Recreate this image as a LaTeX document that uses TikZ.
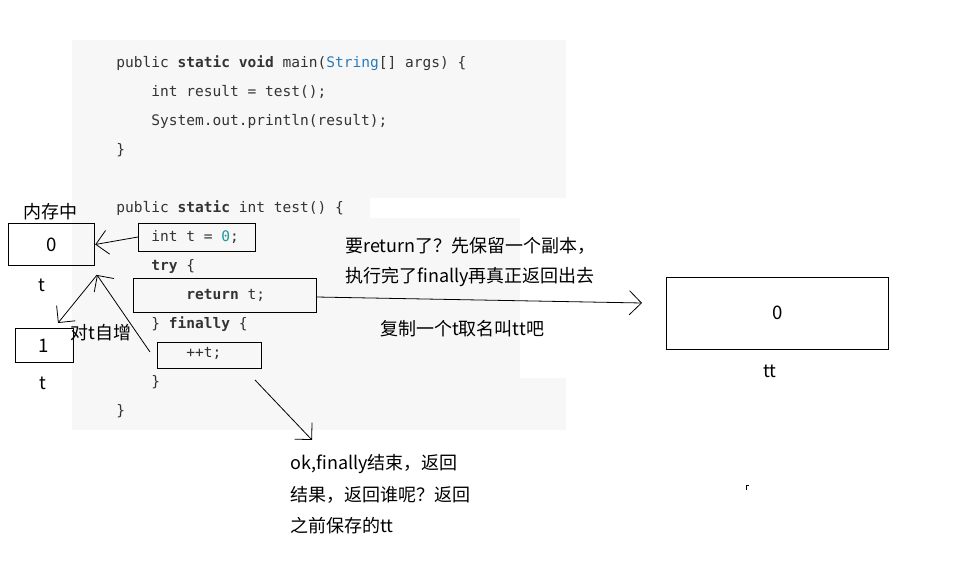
\documentclass[tikz,border=0pt]{standalone}
\usepackage{fontspec}
\setmainfont{Noto Sans CJK SC}
\newfontfamily\codefont{DejaVu Sans Mono}
\usetikzlibrary{arrows.meta}
\definecolor{codegray}{HTML}{F7F7F7}
\definecolor{kw}{HTML}{333333}
\definecolor{strc}{HTML}{2B7BB8}
\definecolor{numc}{HTML}{1A9A9A}
\begin{document}
\begin{tikzpicture}[x=0.75pt,y=-0.75pt,
  code/.style={anchor=base west,inner sep=0,font=\codefont\fontsize{10.9}{12}\selectfont,text=kw},
  lbl/.style={inner sep=0,font=\fontsize{13.5}{15}\selectfont},
  box/.style={draw,semithick,inner sep=0},
  arr/.style={-{Straight Barb[length=9pt,width=18pt]},semithick}]
\useasboundingbox (0,0) rectangle (960,573);
\fill[codegray] (72,40) rectangle (566,430);
\fill[white] (370,198) rectangle (566,218);
\fill[white] (520,218) rectangle (566,378);
% code
\node[code] (c1) at (116,68) {public \textbf{static} \textbf{void} main(\textcolor{strc}{String}[] args) \{};
\node[code] (c2) at (151,97) {int result = test();};
\node[code] (c3) at (151,126) {System.out.println(result);};
\node[code] (c4) at (116,155) {\}};
\node[code] (c5) at (116,213) {public \textbf{static} int test() \{};
\node[code] (c6) at (151,242) {int t = \textcolor{numc}{0};};
\node[code] (c7) at (151,271) {\textbf{try} \{};
\node[code] (c8) at (186,300) {\textbf{return} t;};
\node[code] (c9) at (151,329) {\} \textbf{finally} \{};
\node[code] (c10) at (186,358) {++t;};
\node[code] (c11) at (151,387) {\}};
\node[code] (c12) at (116,416) {\}};
% code boxes
\draw[semithick] (138,223) rectangle (255,251);
\draw[semithick] (133,278) rectangle (316,312);
\draw[semithick] (157,342) rectangle (261,368);
\coordinate (init) at (138,237);
\coordinate (ret) at (316,297);
\coordinate (inc) at (150,352);
\coordinate (incb) at (255,380);
% memory
\node[box,minimum width=65pt,minimum height=31pt] (m0) at (51.5,244.5) {\fontsize{14}{15}\selectfont 0};
\node[lbl] (memlbl) at (50,212) {内存中};
\node[lbl] (t0) at (42,285) {t};
\node[box,minimum width=43.5pt,minimum height=25pt] (m1) at (44,345.5) {\fontsize{14}{15}\selectfont 1};
\node[lbl] (t1) at (43,383) {t};
\node[lbl] (inclbl) at (101,333) {对t自增};
\node[box,minimum width=167pt,minimum height=54pt] (tt) at (777.5,313) {\fontsize{14}{15}\selectfont 0};
\node[lbl] (ttl) at (770,371) {tt};
\coordinate (hub) at (97,275);
\coordinate (onetop) at (58,323);
\coordinate (bot) at (312,440);
\coordinate (ttend) at (642,303);
% arrows
\draw[arr] (init) -- (m0.east);
\draw[arr] (inc) -- (hub);
\draw[arr] (hub) -- (onetop);
\draw[arr] (ret) -- (ttend);
\draw[arr] (incb) -- (bot);
% texts
\node[lbl,anchor=west] (a1) at (345,246) {要return了？先保留一个副本，};
\node[lbl,anchor=west] (a2) at (345,277) {执行完了finally再真正返回出去};
\node[lbl] (a3) at (462,329) {复制一个t取名叫tt吧};
\node[lbl,anchor=west] (b1) at (290,464) {ok,finally结束，返回};
\node[lbl,anchor=west] (b2) at (290,495) {结果，返回谁呢？返回};
\node[lbl,anchor=west] (b3) at (290,526) {之前保存的tt};
\draw (746,485) -- (746,490) (746,485) -- (749,485);
\end{tikzpicture}
\end{document}
